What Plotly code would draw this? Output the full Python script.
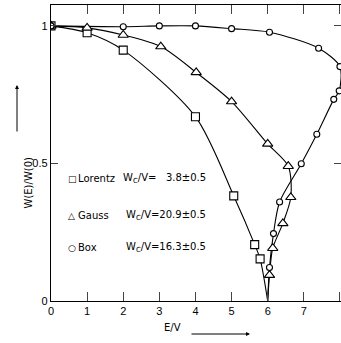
import plotly.graph_objects as go

# W(E)/W(0) versus E/V for three disorder distributions
lorentz_E = [0.0, 1.0, 2.0, 4.0, 5.06, 5.64, 5.79]
lorentz_W = [1.0, 0.975, 0.912, 0.670, 0.382, 0.205, 0.153]

gauss_E = [0.0, 1.0, 2.0, 3.04, 4.02, 5.0, 6.0, 6.57, 6.64, 6.42, 6.14, 6.05]
gauss_W = [1.0, 0.993, 0.967, 0.925, 0.831, 0.725, 0.571, 0.490, 0.377, 0.282, 0.192, 0.094]

box_E = [0.0, 2.0, 3.0, 4.0, 5.0, 6.05, 7.41, 8.0, 7.98, 7.83, 7.36, 6.93, 6.33, 6.16, 6.05]
box_W = [1.0, 0.997, 1.0, 1.0, 0.99, 0.977, 0.919, 0.852, 0.764, 0.733, 0.606, 0.499, 0.360, 0.245, 0.122]

# every curve closes at the band edge E/V = 6
edge_E, edge_W = 6.0, 0.0

labels = ["Lorentz", "Gauss", "Box"]
wc_text = ["W<sub>C</sub>/V=   3.8±0.5", "W<sub>C</sub>/V=20.9±0.5", "W<sub>C</sub>/V=16.3±0.5"]
symbols_txt = ["□", "△", "○"]

x_ticks = [0, 1, 2, 3, 4, 5, 6, 7, 8]
y_ticks = [0, 0.5, 1]
y_tick_text = ["0", "0.5", "1"]

FONT = "Liberation Sans, Arial, Helvetica, sans-serif"
LFONT = "DejaVu Sans, Verdana, sans-serif"
W, H = 341, 343
ML, MR, MT, MB = 51, 0, 5, 42
PW, PH = W - ML - MR, H - MT - MB


def px(xp):
    return (xp - ML) / PW


def py(yp):
    return (H - MB - yp) / PH


fig = go.Figure()

series = [
    (lorentz_E, lorentz_W, "square", 8),
    (gauss_E, gauss_W, "triangle-up", 9),
    (box_E, box_W, "circle", 6),
]
for (xs, ys, sym, size), name in zip(series, labels):
    fig.add_trace(go.Scatter(
        x=xs + [edge_E], y=ys + [edge_W], mode="lines",
        line=dict(color="black", width=1.1, shape="spline", smoothing=0.8),
        showlegend=False, hoverinfo="skip"))
for (xs, ys, sym, size), name in zip(series, labels):
    fig.add_trace(go.Scatter(
        x=xs, y=ys, mode="markers", name=name,
        marker=dict(symbol=sym, size=size, color="white",
                    line=dict(color="black", width=1.1)),
        showlegend=False))

fig.update_xaxes(range=[0, 8.03], tickvals=x_ticks, ticks="inside", ticklen=9,
                 showline=True, linecolor="black", linewidth=1.3, mirror="allticks",
                 showgrid=False, zeroline=False,
                 tickfont=dict(family=FONT, size=11, color="black"))
fig.update_yaxes(range=[0, 1.076], tickvals=y_ticks, ticktext=y_tick_text,
                 ticks="inside", ticklen=7,
                 showline=True, linecolor="black", linewidth=1.3, mirror="allticks",
                 showgrid=False, zeroline=False,
                 tickfont=dict(family=FONT, size=11, color="black"))

ann = []
rows_y = [178.5, 215.5, 247.5]
for sym, name, wc, ry in zip(symbols_txt, labels, wc_text, rows_y):
    ann.append(dict(xref="paper", yref="paper", x=px(66), y=py(ry), text=sym,
                    showarrow=False, xanchor="left", yanchor="middle",
                    font=dict(family="DejaVu Sans", size=9, color="black")))
    ann.append(dict(xref="paper", yref="paper", x=px(76), y=py(ry), text=name,
                    showarrow=False, xanchor="left", yanchor="middle",
                    font=dict(family=LFONT, size=10, color="black")))
    ann.append(dict(xref="paper", yref="paper", x=px(208), y=py(ry), text=wc,
                    showarrow=False, xanchor="right", yanchor="middle",
                    font=dict(family=LFONT, size=10, color="black")))

# axis titles with direction arrows
ann.append(dict(xref="paper", yref="paper", x=px(20), y=py(183),
                text="W(E)/W(0)", textangle=-90, showarrow=False,
                font=dict(family=LFONT, size=10, color="black")))
ann.append(dict(xref="paper", yref="paper", x=px(17), y=py(85),
                ax=0, ay=48, axref="pixel", ayref="pixel",
                text="", showarrow=True, arrowhead=2, arrowsize=0.8, arrowwidth=1,
                arrowcolor="black"))
ann.append(dict(xref="paper", yref="paper", x=px(172), y=py(335),
                text="E/V", showarrow=False,
                font=dict(family=LFONT, size=10, color="black")))
ann.append(dict(xref="paper", yref="paper", x=px(250), y=py(334),
                ax=-60, ay=0, axref="pixel", ayref="pixel",
                text="", showarrow=True, arrowhead=2, arrowsize=0.8, arrowwidth=1,
                arrowcolor="black"))

fig.update_layout(
    width=W, height=H,
    margin=dict(l=ML, r=MR, t=MT, b=MB),
    plot_bgcolor="white", paper_bgcolor="white",
    annotations=ann, showlegend=False,
)

fig.write_html("out.html")
